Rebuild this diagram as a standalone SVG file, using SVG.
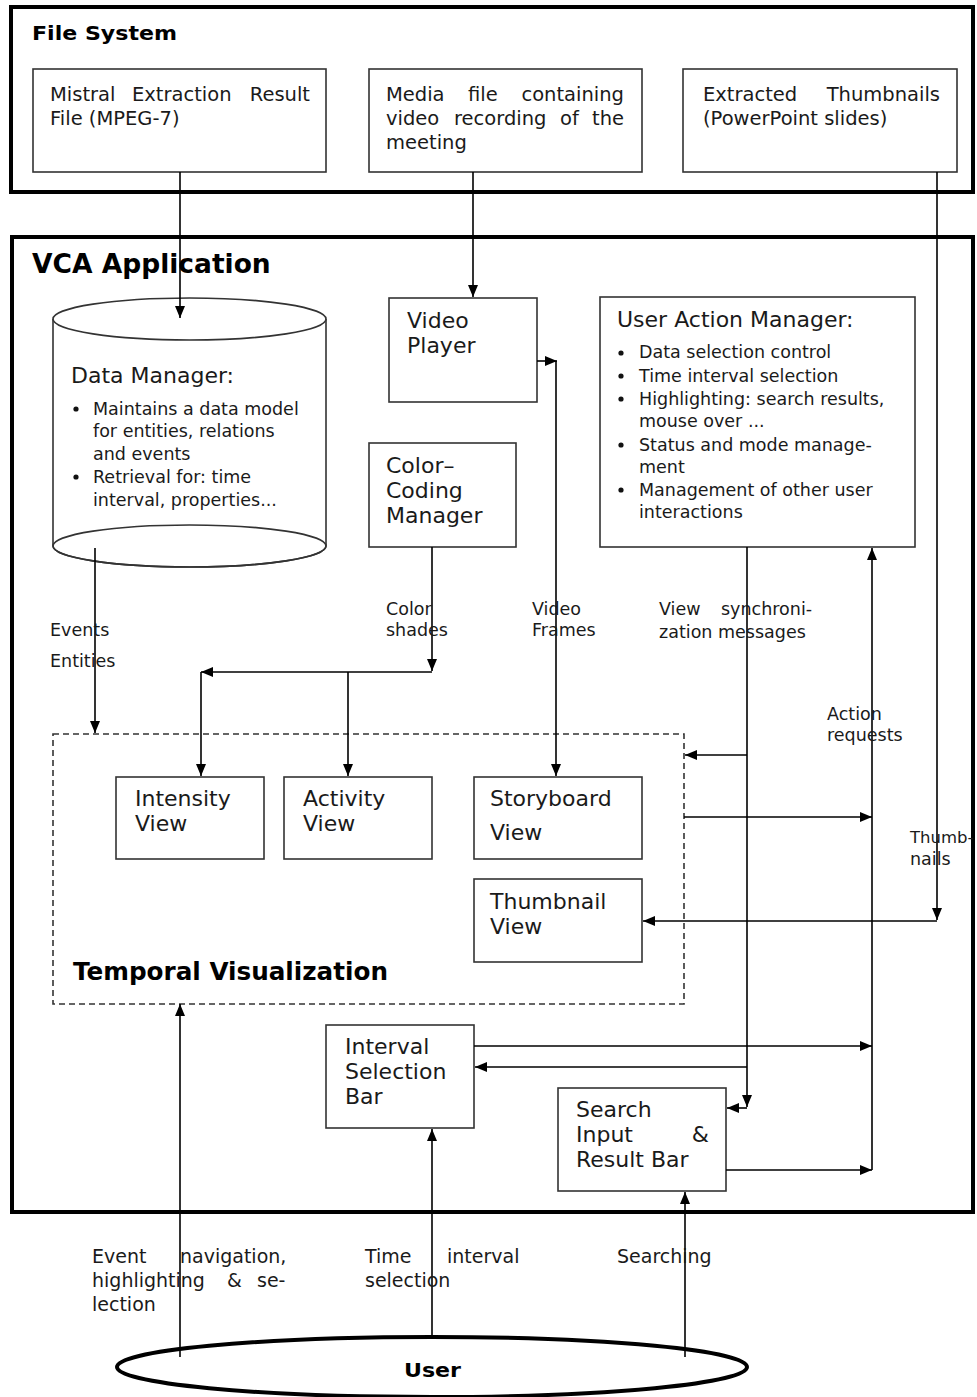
<svg xmlns="http://www.w3.org/2000/svg" width="977" height="1397" viewBox="0 0 977 1397">
  <defs>
    <style>
      .frame{fill:none;stroke:#000;stroke-width:4}
      .box{fill:#fff;stroke:#333;stroke-width:1.6}
      .dash{fill:none;stroke:#333;stroke-width:1.6;stroke-dasharray:6 4}
      .c{fill:none;stroke:#000;stroke-width:1.6}
      .t{font-family:"DejaVu Sans","Liberation Sans",sans-serif;fill:#1a1a1a}
      .fs{font-size:19.5px}
      .h{font-size:22px}
      .li{font-size:17.5px}
      .lb{font-size:19px}
      .b{font-family:"DejaVu Sans","Liberation Sans",sans-serif;font-weight:bold;fill:#000}
    </style>
    <marker id="ah" viewBox="0 0 12 10" refX="12" refY="5" markerWidth="13" markerHeight="10" markerUnits="userSpaceOnUse" orient="auto">
      <path d="M0,0L12,5L0,10z" fill="#000"/>
    </marker>
  </defs>
  <rect width="977" height="1397" fill="#fff"/>

  <!-- File system frame -->
  <g id="file-system">
    <rect class="frame" x="11" y="7" width="962" height="185"/>
    <text class="b" x="32" y="40" font-size="19" textLength="145" lengthAdjust="spacingAndGlyphs">File System</text>
  </g>

  <g id="mpeg7-file">
    <rect class="box" x="33" y="69" width="293" height="103"/>
    <text class="t fs" y="101"><tspan x="50">Mistral</tspan><tspan x="132">Extraction</tspan></text>
    <text class="t fs" x="310" y="101" text-anchor="end">Result</text>
    <text class="t fs" x="50" y="125">File (MPEG-7)</text>
  </g>

  <g id="media-file">
    <rect class="box" x="369" y="69" width="273" height="103"/>
    <text class="t fs" y="101"><tspan x="386">Media</tspan><tspan x="468">file</tspan></text>
    <text class="t fs" x="624" y="101" text-anchor="end">containing</text>
    <text class="t fs" y="125"><tspan x="386">video</tspan><tspan x="454">recording</tspan><tspan x="560">of</tspan></text>
    <text class="t fs" x="624" y="125" text-anchor="end">the</text>
    <text class="t fs" x="386" y="149">meeting</text>
  </g>

  <g id="thumbnail-files">
    <rect class="box" x="683" y="69" width="274" height="103"/>
    <text class="t fs" x="703" y="101">Extracted</text>
    <text class="t fs" x="940" y="101" text-anchor="end">Thumbnails</text>
    <text class="t fs" x="703" y="125">(PowerPoint slides)</text>
  </g>

  <!-- Application frame -->
  <g id="vca-application">
    <rect class="frame" x="12" y="237" width="961" height="975"/>
    <text class="b" x="32" y="273" font-size="26.5">VCA Application</text>
  </g>

  <g id="data-manager">
    <path class="box" d="M53,319 V546 A136.5,21 0 0 0 326,546 V319"/>
    <ellipse class="box" cx="189.5" cy="319" rx="136.5" ry="21"/>
    <ellipse cx="189.5" cy="546" rx="136.5" ry="21" fill="none" stroke="#333" stroke-width="1.6"/>
    <text class="t h" x="71" y="383">Data Manager:</text>
    <circle cx="76" cy="409" r="2.6" fill="#111"/>
    <circle cx="76" cy="477" r="2.6" fill="#111"/>
    <text class="t li" x="93" y="415">Maintains a data model</text>
    <text class="t li" x="93" y="437">for entities, relations</text>
    <text class="t li" x="93" y="460">and events</text>
    <text class="t li" x="93" y="483">Retrieval for: time</text>
    <text class="t li" x="93" y="506">interval, properties...</text>
  </g>

  <g id="video-player">
    <rect class="box" x="389" y="298" width="148" height="104"/>
    <text class="t h" x="407" y="328">Video</text>
    <text class="t h" x="407" y="353">Player</text>
  </g>

  <g id="color-coding-manager">
    <rect class="box" x="369" y="443" width="147" height="104"/>
    <text class="t h" x="386" y="473">Color–</text>
    <text class="t h" x="386" y="498">Coding</text>
    <text class="t h" x="386" y="523">Manager</text>
  </g>

  <g id="user-action-manager">
    <rect class="box" x="600" y="297" width="315" height="250"/>
    <text class="t h" x="617" y="327">User Action Manager:</text>
    <g fill="#111">
      <circle cx="621" cy="353" r="2.6"/>
      <circle cx="621" cy="376" r="2.6"/>
      <circle cx="621" cy="399" r="2.6"/>
      <circle cx="621" cy="445" r="2.6"/>
      <circle cx="621" cy="490" r="2.6"/>
    </g>
    <text class="t li" x="639" y="358">Data selection control</text>
    <text class="t li" x="639" y="382">Time interval selection</text>
    <text class="t li" x="639" y="405">Highlighting: search results,</text>
    <text class="t li" x="639" y="427">mouse over ...</text>
    <text class="t li" x="639" y="451">Status and mode manage-</text>
    <text class="t li" x="639" y="473">ment</text>
    <text class="t li" x="639" y="496">Management of other user</text>
    <text class="t li" x="639" y="518">interactions</text>
  </g>

  <g id="temporal-visualization">
    <rect class="dash" x="53" y="734" width="631" height="270"/>
    <text class="b" x="73" y="980" font-size="24" textLength="315" lengthAdjust="spacingAndGlyphs">Temporal Visualization</text>
  </g>

  <g id="intensity-view">
    <rect class="box" x="116" y="777" width="148" height="82"/>
    <text class="t h" x="135" y="806">Intensity</text>
    <text class="t h" x="135" y="831">View</text>
  </g>

  <g id="activity-view">
    <rect class="box" x="284" y="777" width="148" height="82"/>
    <text class="t h" x="303" y="806">Activity</text>
    <text class="t h" x="303" y="831">View</text>
  </g>

  <g id="storyboard-view">
    <rect class="box" x="474" y="777" width="168" height="82"/>
    <text class="t h" x="490" y="806">Storyboard</text>
    <text class="t h" x="490" y="840">View</text>
  </g>

  <g id="thumbnail-view">
    <rect class="box" x="474" y="879" width="168" height="83"/>
    <text class="t h" x="490" y="909">Thumbnail</text>
    <text class="t h" x="490" y="934">View</text>
  </g>

  <g id="interval-selection-bar">
    <rect class="box" x="326" y="1025" width="148" height="103"/>
    <text class="t h" x="345" y="1054">Interval</text>
    <text class="t h" x="345" y="1079">Selection</text>
    <text class="t h" x="345" y="1104">Bar</text>
  </g>

  <g id="search-bar">
    <rect class="box" x="558" y="1088" width="168" height="103"/>
    <text class="t h" x="576" y="1117">Search</text>
    <text class="t h" x="576" y="1142">Input</text>
    <text class="t h" x="709" y="1142" text-anchor="end">&amp;</text>
    <text class="t h" x="576" y="1167">Result Bar</text>
  </g>

  <g id="user">
    <ellipse cx="432" cy="1367" rx="315" ry="30" fill="#fff" stroke="#000" stroke-width="4"/>
    <text class="b" x="404" y="1377" font-size="20" textLength="57" lengthAdjust="spacingAndGlyphs">User</text>
  </g>

  <!-- Connectors -->
  <g id="connectors">
    <path class="c" d="M180,172 V318" marker-end="url(#ah)"/>
    <path class="c" d="M473,172 V297" marker-end="url(#ah)"/>
    <path class="c" d="M937,172 V920" marker-end="url(#ah)"/>
    <path class="c" d="M937,921 H643" marker-end="url(#ah)"/>
    <path class="c" d="M537,361 H557" marker-end="url(#ah)"/>
    <path class="c" d="M556,361 V776" marker-end="url(#ah)"/>
    <path class="c" d="M432,547 V671" marker-end="url(#ah)"/>
    <path class="c" d="M432,672 H201" marker-end="url(#ah)"/>
    <path class="c" d="M201,672 V776" marker-end="url(#ah)"/>
    <path class="c" d="M348,672 V776" marker-end="url(#ah)"/>
    <path class="c" d="M95,548 V733" marker-end="url(#ah)"/>
    <path class="c" d="M747,547 V1107" marker-end="url(#ah)"/>
    <path class="c" d="M747,755 H685" marker-end="url(#ah)"/>
    <path class="c" d="M747,1067 H475" marker-end="url(#ah)"/>
    <path class="c" d="M747,1108 H727" marker-end="url(#ah)"/>
    <path class="c" d="M872,1170 V548" marker-end="url(#ah)"/>
    <path class="c" d="M684,817 H872" marker-end="url(#ah)"/>
    <path class="c" d="M474,1046 H872" marker-end="url(#ah)"/>
    <path class="c" d="M726,1170 H872" marker-end="url(#ah)"/>
    <path class="c" d="M180,1357 V1004" marker-end="url(#ah)"/>
    <path class="c" d="M432,1337 V1129" marker-end="url(#ah)"/>
    <path class="c" d="M685,1357 V1192" marker-end="url(#ah)"/>
  </g>

  <!-- Connector labels -->
  <g id="labels" class="t li">
    <text x="50" y="636">Events</text>
    <text x="50" y="667">Entities</text>
    <text x="386" y="615">Color</text>
    <text x="386" y="636">shades</text>
    <text x="532" y="615">Video</text>
    <text x="532" y="636">Frames</text>
    <text y="615"><tspan x="659">View</tspan><tspan x="721">synchroni-</tspan></text>
    <text x="659" y="638">zation messages</text>
    <text x="827" y="720">Action</text>
    <text x="827" y="741">requests</text>
    <text x="910" y="843" font-size="16.5">Thumb-</text>
    <text x="910" y="865">nails</text>
  </g>
  <g id="user-labels" class="t lb">
    <text y="1263"><tspan x="92">Event</tspan><tspan x="180">navigation,</tspan></text>
    <text y="1287"><tspan x="92">highlighting</tspan><tspan x="227">&amp;</tspan><tspan x="257">se-</tspan></text>
    <text x="92" y="1311">lection</text>
    <text y="1263"><tspan x="365">Time</tspan><tspan x="447">interval</tspan></text>
    <text x="365" y="1287">selection</text>
    <text x="617" y="1263">Searching</text>
  </g>
</svg>
